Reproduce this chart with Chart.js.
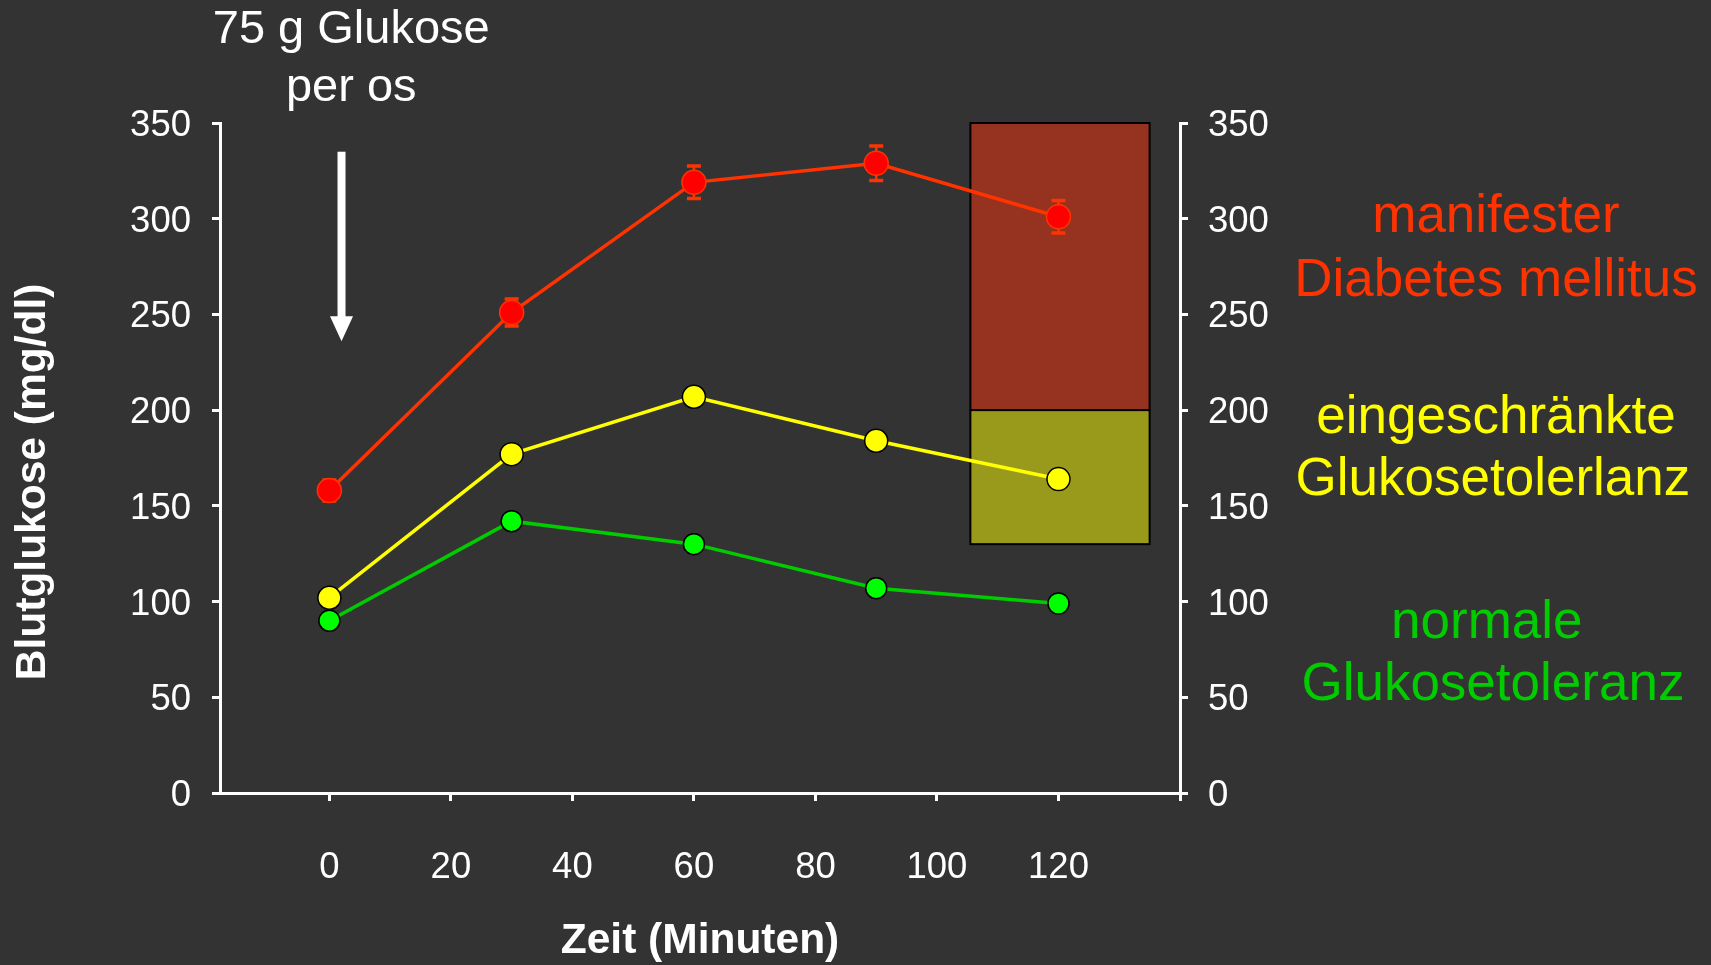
<!DOCTYPE html>
<html>
<head>
<meta charset="utf-8">
<script src="https://cdn.jsdelivr.net/npm/chart.js@4.4.1/dist/chart.umd.min.js"></script>
<style>
  html, body { margin: 0; padding: 0; background: #333333; }
  #wrap { width: 1711px; height: 965px; position: relative; }
  canvas { display: block; }
</style>
</head>
<body>
<div id="wrap"><canvas id="c" width="1711" height="965"></canvas></div>
<script>
// ---- data ----
const times = [0, 30, 60, 90, 120];
const diabetesValues = [158, 251, 319, 329, 301];
const diabetesErrors = [5.5, 7, 8.5, 9, 8.5];
const impairedValues = [102, 177, 207, 184, 164];
const normalValues = [90, 142, 130, 107, 99];
const xTickValues = [0, 20, 40, 60, 80, 100, 120, 140];
const xTickLabels = ['0', '20', '40', '60', '80', '100', '120', ''];
const yTickValues = [0, 50, 100, 150, 200, 250, 300, 350];
const yTitle = 'Blutglukose (mg/dl)';
const xTitle = 'Zeit (Minuten)';
// reference ranges (boxes)
const boxX = [105.5, 135];
const diabetesBoxY = [200, 350];
const impairedBoxY = [130, 200];
// annotations
const doseText = ['75 g Glukose', 'per os'];
const arrowX = 2;
const arrowY = [335, 236];
const groupLabels = [
  { lines: ['manifester', 'Diabetes mellitus'], x: [192, 192], y: [300.5, 267.5], color: '#ff3300' },
  { lines: ['eingeschränkte', 'Glukosetolerlanz'], x: [192, 191.5], y: [195.5, 163.5], color: '#ffff00' },
  { lines: ['normale', 'Glukosetoleranz'], x: [190.5, 191.5], y: [88.5, 56], color: '#00cc00' }
];

const FONT = "'Liberation Sans', Arial, Helvetica, sans-serif";
Chart.defaults.font.family = FONT;
Chart.defaults.color = '#ffffff';

const pts = (vals) => times.map((t, i) => ({ x: t, y: vals[i] }));

const overlayPlugin = {
  id: 'overlay',
  beforeDatasetsDraw(chart) {
    const ctx = chart.ctx, xs = chart.scales.x, ys = chart.scales.y;
    ctx.save();
    const drawBox = (yr, fill) => {
      const x0 = xs.getPixelForValue(boxX[0]), x1 = xs.getPixelForValue(boxX[1]);
      const y0 = ys.getPixelForValue(yr[1]), y1 = ys.getPixelForValue(yr[0]);
      ctx.fillStyle = fill;
      ctx.fillRect(x0, y0, x1 - x0, y1 - y0);
      ctx.strokeStyle = '#000000';
      ctx.lineWidth = 2;
      ctx.strokeRect(x0, y0, x1 - x0, y1 - y0);
    };
    drawBox(diabetesBoxY, '#963220');
    drawBox(impairedBoxY, '#999a1c');
    // error bars
    ctx.strokeStyle = '#ff3300';
    times.forEach((t, i) => {
      const px = xs.getPixelForValue(t);
      const yt = ys.getPixelForValue(diabetesValues[i] + diabetesErrors[i]);
      const yb = ys.getPixelForValue(diabetesValues[i] - diabetesErrors[i]);
      ctx.lineWidth = 2.5;
      ctx.beginPath(); ctx.moveTo(px, yt); ctx.lineTo(px, yb); ctx.stroke();
      ctx.lineWidth = 3.5;
      ctx.beginPath();
      ctx.moveTo(px - 7, yt); ctx.lineTo(px + 7, yt);
      ctx.moveTo(px - 7, yb); ctx.lineTo(px + 7, yb);
      ctx.stroke();
    });
    ctx.restore();
  },
  afterDraw(chart) {
    const ctx = chart.ctx, xs = chart.scales.x, ys = chart.scales.y;
    ctx.save();
    // y axis title (rotated), centred slightly below the axis midpoint as in the original
    ctx.font = 'bold 42.5px ' + FONT;
    ctx.fillStyle = '#ffffff';
    ctx.textAlign = 'center';
    ctx.textBaseline = 'middle';
    ctx.save();
    ctx.translate(ys.left + 33, ys.getPixelForValue(162.5));
    ctx.rotate(-Math.PI / 2);
    ctx.fillText(yTitle, 0, 0);
    ctx.restore();
    // arrow
    const ax = xs.getPixelForValue(arrowX);
    const ay0 = ys.getPixelForValue(arrowY[0]);
    const ay1 = ys.getPixelForValue(arrowY[1]);
    ctx.fillRect(ax - 4, ay0, 8, (ay1 - ay0) - 22);
    ctx.beginPath();
    ctx.moveTo(ax - 11.5, ay1 - 25);
    ctx.lineTo(ax + 11.5, ay1 - 25);
    ctx.lineTo(ax, ay1);
    ctx.closePath();
    ctx.fill();
    // dose text
    ctx.font = '47px ' + FONT;
    const tx = xs.getPixelForValue(3.6);
    ctx.fillText(doseText[0], tx, ys.getPixelForValue(398.5));
    ctx.fillText(doseText[1], tx, ys.getPixelForValue(368.5));
    // group labels
    ctx.font = '53px ' + FONT;
    groupLabels.forEach(g => {
      ctx.fillStyle = g.color;
      g.lines.forEach((l, i) => ctx.fillText(l, xs.getPixelForValue(g.x[i]), ys.getPixelForValue(g.y[i])));
    });
    ctx.restore();
  }
};

const axisGrid = {
  display: true, drawOnChartArea: false, drawTicks: true,
  tickLength: 8, tickWidth: 3, tickColor: '#ffffff', color: '#ffffff', lineWidth: 3
};

new Chart(document.getElementById('c'), {
  type: 'line',
  data: {
    datasets: [
      {
        label: 'normale Glukosetoleranz', data: pts(normalValues),
        borderColor: '#00cc00', borderWidth: 3.5,
        pointBackgroundColor: '#00ff00', pointBorderColor: '#000000',
        pointBorderWidth: 1.5, pointRadius: 10.5, tension: 0
      },
      {
        label: 'eingeschränkte Glukosetolerlanz', data: pts(impairedValues),
        borderColor: '#ffff00', borderWidth: 3.5,
        pointBackgroundColor: '#ffff00', pointBorderColor: '#000000',
        pointBorderWidth: 1.5, pointRadius: 11.5, tension: 0
      },
      {
        label: 'manifester Diabetes mellitus', data: pts(diabetesValues),
        borderColor: '#ff3300', borderWidth: 3.5,
        pointBackgroundColor: '#ff0000', pointBorderColor: '#ff3300',
        pointBorderWidth: 1.5, pointRadius: 12, tension: 0
      }
    ]
  },
  options: {
    responsive: false,
    animation: false,
    events: [],
    layout: { padding: { top: 123, right: 0, bottom: 0, left: 0 } },
    plugins: { legend: { display: false }, tooltip: { enabled: false } },
    scales: {
      x: {
        type: 'linear', min: -18, max: 140,
        afterBuildTicks: (s) => { s.ticks = xTickValues.map(v => ({ value: v })); },
        afterFit: (s) => { s.height = 172; },
        grid: axisGrid,
        border: { display: true, color: '#ffffff', width: 3 },
        ticks: {
          color: '#ffffff', font: { size: 36.5 }, padding: 45,
          callback: (v) => { const i = xTickValues.indexOf(v); return i >= 0 ? xTickLabels[i] : ''; }
        },
        title: {
          display: true, text: xTitle, color: '#ffffff',
          font: { size: 42.5, weight: 'bold', lineHeight: 1.1 }, padding: { top: 0, bottom: 0 }
        }
      },
      y: {
        type: 'linear', position: 'left', min: 0, max: 350,
        afterBuildTicks: (s) => { s.ticks = yTickValues.map(v => ({ value: v })); },
        afterFit: (s) => { s.width = 220; },
        grid: axisGrid,
        border: { display: true, color: '#ffffff', width: 3 },
        ticks: { color: '#ffffff', font: { size: 36.5 }, padding: 21, labelOffset: 3 }
      },
      y2: {
        type: 'linear', position: 'right', min: 0, max: 350,
        afterBuildTicks: (s) => { s.ticks = yTickValues.map(v => ({ value: v })); },
        afterFit: (s) => { s.width = 531; },
        grid: axisGrid,
        border: { display: true, color: '#ffffff', width: 3 },
        ticks: { color: '#ffffff', font: { size: 36.5 }, padding: 20, labelOffset: 3 }
      }
    }
  },
  plugins: [overlayPlugin]
});
</script>
</body>
</html>
